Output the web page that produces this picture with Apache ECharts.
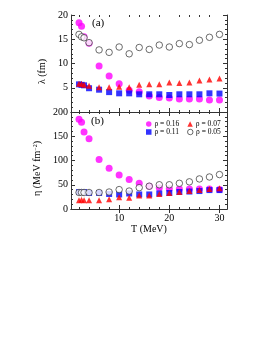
<!DOCTYPE html>
<html>
<head>
<meta charset="utf-8">
<script src="https://cdn.jsdelivr.net/npm/echarts@6/dist/echarts.min.js"></script>
<style>html,body{margin:0;padding:0;background:#fff;}#c{width:273px;height:353px;}</style>
</head>
<body>
<div id="c"></div>
<script>
const T = [2, 2.5, 3, 4, 6, 8, 10, 12, 14, 16, 18, 20, 22, 24, 26, 28, 30];
const lambda016 = [18.4, 17.7, 15.5, 14.2, 9.5, 7.4, 5.8, 4.5, 4.2, 3.3, 3.0, 2.9, 2.7, 2.7, 2.7, 2.5, 2.5];
const lambda011 = [5.7, 5.6, 5.5, 4.9, 4.6, 4.1, 3.85, 3.85, 3.65, 3.65, 3.65, 3.5, 3.65, 3.65, 3.65, 3.85, 3.8];
const lambda007 = [5.8, 5.8, 5.6, 5.4, 5.1, 5.1, 5.2, 5.1, 5.6, 5.7, 5.7, 6.1, 6.0, 6.1, 6.5, 6.7, 6.9];
const lambda005 = [16.0, 15.5, 15.3, 14.3, 12.8, 12.3, 13.4, 12.0, 13.3, 12.9, 13.8, 13.4, 14.1, 13.9, 14.8, 15.4, 16.0];
const eta016 = [185, 179, 159, 145, 102, 84, 70, 61, 53, 47, 44, 42, 41, 41, 41, 41, 40];
const eta011 = [35, 35, 35, 33, 33, 31, 30, 32, 30, 30, 32, 33, 35, 36, 37, 39, 39];
const eta007 = [18, 19, 18, 18, 18, 20, 24, 23, 28, 28, 31, 33, 35, 37, 39, 41, 43];
const eta005 = [34, 34, 34, 34, 34, 35, 40, 37, 44, 47, 50, 50, 53, 56, 62, 66, 71];
const xMajor = [10, 20, 30];
const xMinor = [2, 4, 6, 8, 12, 14, 16, 18, 22, 24, 26, 28];
const names = ['ρ = 0.16', 'ρ = 0.11', 'ρ = 0.07', 'ρ = 0.05'];

const FONT = "'Liberation Serif', 'Times New Roman', serif";
const AX = '#333';
const pts = (ys) => T.map((t, i) => [t, ys[i]]);

function xAxes(g, showLabels) {
  const base = {gridIndex: g, type: 'value', min: 0.4, max: 31.5, splitLine: {show: false}};
  const mk = (pos, vals, len, line, lab) => Object.assign({}, base, {
    position: pos,
    axisLine: {show: line, lineStyle: {color: AX, width: 1}},
    axisTick: {show: true, inside: true, length: len, customValues: vals, lineStyle: {color: AX}},
    axisLabel: {show: lab, customValues: xMajor, color: '#000', fontFamily: FONT, fontSize: 10, margin: 4},
    name: lab ? 'T (MeV)' : '', nameLocation: 'middle', nameGap: 15,
    nameTextStyle: {color: '#000', fontFamily: FONT, fontSize: 10}
  });
  return [
    mk('bottom', xMajor, 4, true, showLabels),
    mk('top', xMajor, 4, true, false),
    mk('bottom', xMinor, 2, false, false),
    mk('top', xMinor, 2, false, false)
  ];
}
function yAxes(g, max, interval, showMin, name) {
  const mk = (pos, lab) => ({
    gridIndex: g, type: 'value', min: 0, max: max, interval: interval, position: pos,
    splitLine: {show: false},
    axisLine: {show: true, lineStyle: {color: AX, width: 1}},
    axisTick: {show: true, inside: true, length: 4, lineStyle: {color: AX}},
    minorTick: {show: true, splitNumber: 5, length: 2, lineStyle: {color: AX}},
    axisLabel: {show: lab, showMinLabel: showMin, color: '#000', fontFamily: FONT, fontSize: 10, margin: 3},
    name: lab ? name : '', nameLocation: 'middle', nameGap: 18,
    nameTextStyle: {color: '#000', fontFamily: FONT, fontSize: 10, padding: [0, 16, 0, 0],
      rich: {sup: {fontSize: 6, verticalAlign: 'top', fontFamily: FONT, color: '#000', padding: [0, 0, 4, 0]}}}
  });
  return [mk('left', true), mk('right', false)];
}

const styles = {
  'ρ = 0.16': {symbol: 'circle', symbolSize: 7, itemStyle: {color: '#ff00ff'}},
  'ρ = 0.11': {symbol: 'rect', symbolSize: 6, itemStyle: {color: '#0000ff'}},
  'ρ = 0.07': {symbol: 'triangle', symbolSize: 6, itemStyle: {color: '#ff0000'}},
  'ρ = 0.05': {symbol: 'circle', symbolSize: 6.5, itemStyle: {color: '#fff', borderColor: '#333', borderWidth: 0.9}}
};
function ser(name, xi, yi, data) {
  return Object.assign({type: 'scatter', name: name, xAxisIndex: xi, yAxisIndex: yi, data: pts(data), animation: false}, styles[name]);
}
function legItem(name) {
  const s = styles[name];
  return {name: name, icon: s.symbol, itemStyle: Object.assign({borderWidth: 0}, s.itemStyle)};
}

const chart = echarts.init(document.getElementById('c'), null, {renderer: 'canvas'});
const legendBase = {
  orient: 'horizontal', itemWidth: 5.5, itemHeight: 5.5, itemGap: 8,
  textStyle: {fontFamily: FONT, fontSize: 7.5, color: '#000', padding: [0, 0, 0, -2]},
  selectedMode: false, padding: 0
};
chart.setOption({
  backgroundColor: '#fff',
  animation: false,
  grid: [
    {left: 71, top: 15, width: 156, height: 97},
    {left: 71, top: 112, width: 156, height: 97}
  ],
  xAxis: [].concat(xAxes(0, false), xAxes(1, true)),
  yAxis: [].concat(yAxes(0, 20, 5, false, 'λ (fm)'), yAxes(1, 200, 50, true, 'η (MeV fm{sup|−2})')),
  legend: [
    Object.assign({left: 146, top: 120, data: [legItem('ρ = 0.16'), legItem('ρ = 0.07')]}, legendBase),
    Object.assign({left: 146, top: 128, data: [legItem('ρ = 0.11'), legItem('ρ = 0.05')]}, legendBase)
  ],
  graphic: [
    {type: 'text', left: 92, top: 18, style: {text: '(a)', font: '11px ' + FONT, fill: '#000'}},
    {type: 'text', left: 91, top: 116, style: {text: '(b)', font: '11px ' + FONT, fill: '#000'}}
  ],
  series: [
    ser('ρ = 0.16', 0, 0, lambda016),
    ser('ρ = 0.11', 0, 0, lambda011),
    ser('ρ = 0.07', 0, 0, lambda007),
    ser('ρ = 0.05', 0, 0, lambda005),
    ser('ρ = 0.16', 4, 2, eta016),
    ser('ρ = 0.11', 4, 2, eta011),
    ser('ρ = 0.07', 4, 2, eta007),
    ser('ρ = 0.05', 4, 2, eta005)
  ]
});
</script>
</body>
</html>
